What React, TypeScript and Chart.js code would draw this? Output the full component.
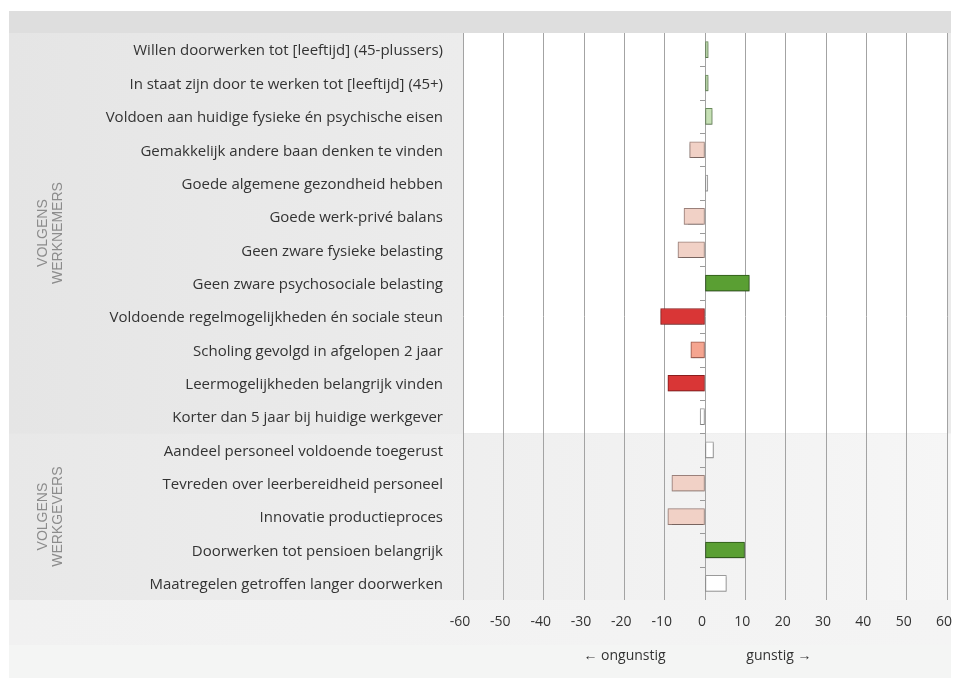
import React, { useEffect, useRef } from "react";
import { Chart, registerables } from "chart.js";

Chart.register(...registerables);

const categories = [
  "Willen doorwerken tot [leeftijd] (45-plussers)",
  "In staat zijn door te werken tot [leeftijd] (45+)",
  "Voldoen aan huidige fysieke én psychische eisen",
  "Gemakkelijk andere baan denken te vinden",
  "Goede algemene gezondheid hebben",
  "Goede werk-privé balans",
  "Geen zware fysieke belasting",
  "Geen zware psychosociale belasting",
  "Voldoende regelmogelijkheden én sociale steun",
  "Scholing gevolgd in afgelopen 2 jaar",
  "Leermogelijkheden belangrijk vinden",
  "Korter dan 5 jaar bij huidige werkgever",
  "Aandeel personeel voldoende toegerust",
  "Tevreden over leerbereidheid personeel",
  "Innovatie productieproces",
  "Doorwerken tot pensioen belangrijk",
  "Maatregelen getroffen langer doorwerken",
];

const values = [0.8, 0.8, 1.8, -3.8, 0.7, -5.2, -6.7, 11.0, -11.0, -3.5, -9.2, -1.2, 2.1, -8.2, -9.2, 9.8, 5.3];

const classes = [
  "pos", "pos", "pos", "negLight", "neutral", "negLight", "negLight", "posStrong",
  "negStrong", "negMid", "negStrong", "neutral", "neutral", "negLight", "negLight",
  "posStrong", "neutral",
];

const xTicks = [-60, -50, -40, -30, -20, -10, 0, 10, 20, 30, 40, 50, 60];

const groupLabels = [
  ["VOLGENS", "WERKNEMERS"],
  ["VOLGENS", "WERKGEVERS"],
];
const groupRanges = [
  [0, 11],
  [12, 16],
];

const directionLabels = ["← ongunstig", "gunstig →"];
const directionAnchors = [-10, 10];

const palette: Record<string, { fill: string; border: string }> = {
  pos: { fill: "#c6e0b5", border: "#6a8a5c" },
  posStrong: { fill: "#5a9f33", border: "#2d561a" },
  negLight: { fill: "#f1d1c6", border: "#9a807a" },
  negMid: { fill: "#f5a590", border: "#9a5a4c" },
  negStrong: { fill: "#d93636", border: "#8a1e1e" },
  neutral: { fill: "#ffffff", border: "#9a9a9a" },
};

const FONT = "'Open Sans', Arial, sans-serif";
const PANEL_W = 942;

const decorPlugin = {
  id: "decor",
  beforeDraw(chart: any) {
    const { ctx, chartArea: ca, height, scales } = chart;
    const width = PANEL_W;
    const y = scales.y;
    const split = (y.getPixelForValue(11) + y.getPixelForValue(12)) / 2;
    ctx.save();
    ctx.fillStyle = "#dedede";
    ctx.fillRect(0, 0, width, height);
    let g = ctx.createLinearGradient(0, 0, ca.left, 0);
    g.addColorStop(0, "#e5e5e5");
    g.addColorStop(1, "#ececec");
    ctx.fillStyle = g;
    ctx.fillRect(0, ca.top, ca.left, split - ca.top);
    ctx.fillStyle = "#ffffff";
    ctx.fillRect(ca.left, ca.top, ca.right - ca.left, split - ca.top);
    ctx.fillStyle = "#ebebeb";
    ctx.fillRect(ca.right, ca.top, width - ca.right, split - ca.top);
    g = ctx.createLinearGradient(0, 0, width, 0);
    g.addColorStop(0, "#e8e8e8");
    g.addColorStop(1, "#f6f6f6");
    ctx.fillStyle = g;
    ctx.fillRect(0, split, width, ca.bottom - split);
    g = ctx.createLinearGradient(0, 0, width, 0);
    g.addColorStop(0, "#f1f1f1");
    g.addColorStop(1, "#f4f4f4");
    ctx.fillStyle = g;
    ctx.fillRect(0, ca.bottom, width, 45);
    ctx.fillStyle = "#f4f5f4";
    ctx.fillRect(0, ca.bottom + 45, width, height - ca.bottom - 45);
    ctx.restore();
  },
  beforeDatasetsDraw(chart: any) {
    const { ctx, scales } = chart;
    const x = scales.x;
    const y = scales.y;
    const x0 = x.getPixelForValue(0);
    ctx.save();
    ctx.strokeStyle = "#9a9a9a";
    ctx.lineWidth = 1;
    for (let i = 0; i < categories.length - 1; i++) {
      const yb = Math.round((y.getPixelForValue(i) + y.getPixelForValue(i + 1)) / 2) + 0.5;
      ctx.beginPath();
      ctx.moveTo(x0 - 5, yb);
      ctx.lineTo(x0, yb);
      ctx.stroke();
    }
    ctx.shadowColor = "rgba(0,0,0,0.22)";
    ctx.shadowOffsetX = 0;
    ctx.shadowOffsetY = 1.5;
    ctx.shadowBlur = 1.5;
  },
  afterDatasetsDraw(chart: any) {
    chart.ctx.restore();
  },
  afterDraw(chart: any) {
    const { ctx, chartArea: ca, scales } = chart;
    const x = scales.x;
    const y = scales.y;
    ctx.save();
    ctx.font = `14px ${FONT}`;
    ctx.fillStyle = "#333333";
    ctx.textBaseline = "middle";
    const ty = ca.bottom + 56;
    ctx.textAlign = "right";
    ctx.fillText(directionLabels[0], x.getPixelForValue(directionAnchors[0]) + 1, ty);
    ctx.textAlign = "left";
    ctx.fillText(directionLabels[1], x.getPixelForValue(directionAnchors[1]) + 1, ty);

    ctx.font = `14px 'Liberation Sans', Arial, sans-serif`;
    ctx.fillStyle = "#8c8c8c";
    ctx.textAlign = "center";
    const half = (y.getPixelForValue(1) - y.getPixelForValue(0)) / 2;
    groupLabels.forEach((lines, gi) => {
      const [a, b] = groupRanges[gi];
      const cy = (y.getPixelForValue(a) - half + y.getPixelForValue(b) + half) / 2;
      ctx.save();
      ctx.translate(0, cy);
      ctx.rotate(-Math.PI / 2);
      lines.forEach((ln, li) => {
        ctx.fillText(ln, 0, 34 + li * 15);
      });
      ctx.restore();
    });
    ctx.restore();
  },
};

export default function App() {
  const ref = useRef<HTMLCanvasElement>(null);
  useEffect(() => {
    if (!ref.current) return;
    const chart = new Chart(ref.current, {
      type: "bar",
      data: {
        labels: categories,
        datasets: [
          {
            data: values,
            backgroundColor: classes.map((c) => palette[c].fill),
            borderColor: classes.map((c) => palette[c].border),
            borderWidth: 1,
            borderSkipped: false,
            barThickness: 16,
          },
        ],
      },
      options: {
        indexAxis: "y",
        animation: false,
        responsive: false,
        maintainAspectRatio: false,
        layout: { padding: { top: 22, right: 12, left: 0, bottom: 0 } },
        plugins: { legend: { display: false }, tooltip: { enabled: false } },
        scales: {
          x: {
            min: -60,
            max: 60,
            afterBuildTicks: (axis: any) => {
              axis.ticks = xTicks.map((v) => ({ value: v }));
            },
            afterFit: (axis: any) => {
              axis.height = 78;
              axis.paddingLeft = 0;
              axis.paddingRight = 0;
            },
            grid: { color: "#a3a3a3", lineWidth: 1, drawTicks: false },
            border: { display: false },
            ticks: {
              padding: 14,
              labelOffset: -3,
              color: "#333333",
              font: { size: 14, family: FONT },
            },
          },
          y: {
            afterFit: (axis: any) => {
              axis.width = 454;
              axis.paddingTop = 0;
              axis.paddingBottom = 0;
            },
            grid: { display: false },
            border: { display: false },
            ticks: {
              padding: 12,
              labelOffset: 1.5,
              color: "#333333",
              font: { size: 15, family: FONT },
            },
          },
        },
      },
      plugins: [decorPlugin],
    });
    return () => chart.destroy();
  }, []);
  return (
    <div style={{ position: "absolute", left: 9, top: 11, width: 950, height: 667 }}>
      <canvas ref={ref} width={950} height={667} style={{ width: 950, height: 667 }} />
    </div>
  );
}
